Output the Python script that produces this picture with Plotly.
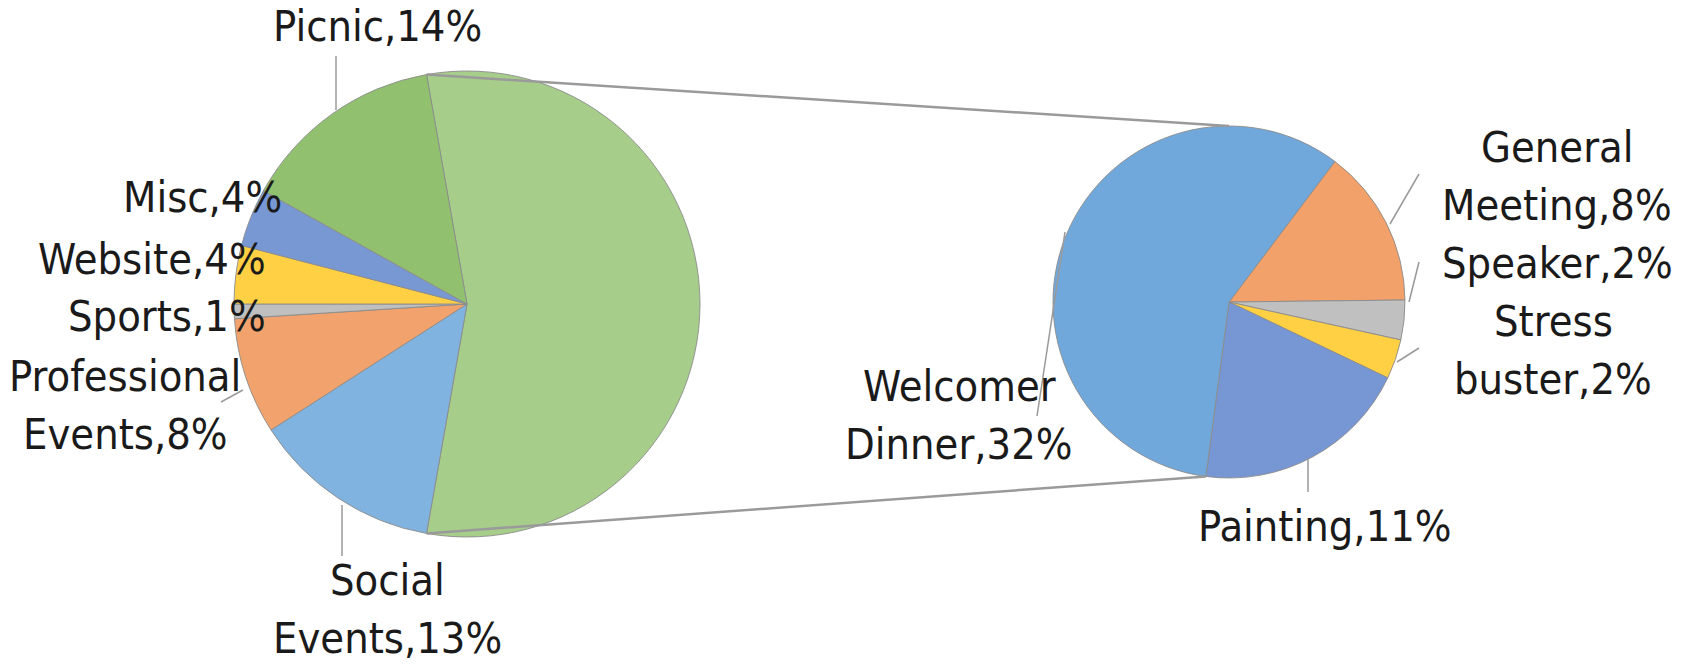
import math
import plotly.graph_objects as go

# ---------------- data ----------------
main_labels = ["Other", "Social Events", "Professional Events", "Sports", "Website", "Misc", "Picnic"]
main_values = [55, 13, 8, 1, 4, 4, 14]
main_colors = ["#a6cd8a", "#80b3e0", "#f2a36d", "#bfbfbf", "#ffd044", "#7898d3", "#91c06e"]

sub_labels = ["General Meeting", "Speaker", "Stress buster", "Painting", "Welcomer Dinner"]
sub_values = [8, 2, 2, 11, 32]
sub_colors = ["#f2a16b", "#c0c0c0", "#ffd044", "#7797d4", "#71a8dc"]

# ---------------- layout geometry (pixels) ----------------
W, H = 1690, 664
L_CX, L_CY, L_R = 467, 304, 233
R_CX, R_CY, R_R = 1229, 302, 176
L_ROT = -10
R_ROT = 37

def dom(cx, cy, r):
    return dict(x=[(cx - r) / W, (cx + r) / W], y=[1 - (cy + r) / H, 1 - (cy - r) / H])

def px(x):
    return x / W

def py(y):
    return 1 - y / H

line_style = dict(color="rgba(140,140,140,0.9)", width=1)

fig = go.Figure()
fig.add_trace(go.Pie(
    labels=main_labels, values=main_values, sort=False, direction="clockwise",
    rotation=L_ROT, domain=dom(L_CX, L_CY, L_R), textinfo="none", hoverinfo="label+value",
    marker=dict(colors=main_colors, line=line_style), showlegend=False,
))
fig.add_trace(go.Pie(
    labels=sub_labels, values=sub_values, sort=False, direction="clockwise",
    rotation=R_ROT, domain=dom(R_CX, R_CY, R_R), textinfo="none", hoverinfo="label+value",
    marker=dict(colors=sub_colors, line=line_style), showlegend=False,
))

# connector lines from the "Other" slice to the secondary pie
tot = sum(main_values)
a0 = math.radians(L_ROT)
a1 = math.radians(L_ROT + 360 * main_values[0] / tot)
sub_tot = sum(sub_values)
b1 = math.radians(R_ROT + 360 * sum(sub_values[:-1]) / sub_tot)

def pt(cx, cy, r, a):
    return cx + r * math.sin(a), cy - r * math.cos(a)

shapes = []
p_top = pt(L_CX, L_CY, L_R, a0)
q_top = pt(R_CX, R_CY, R_R, 0)
p_bot = pt(L_CX, L_CY, L_R, a1)
q_bot = pt(R_CX, R_CY, R_R, b1)
for p, q in [(p_top, q_top), (p_bot, q_bot)]:
    shapes.append(dict(type="line", xref="paper", yref="paper",
                       x0=px(p[0]), y0=py(p[1]), x1=px(q[0]), y1=py(q[1]),
                       line=dict(color="#9a9a9a", width=2.5)))

# leader lines
leaders = [
    ((336, 56), (336, 110)),     # Picnic
    ((342, 505), (342, 556)),    # Social
    ((221, 402), (243, 390)),    # Professional
    ((1419, 174), (1390, 224)),  # General Meeting
    ((1419, 262), (1409, 302)),  # Speaker
    ((1419, 348), (1397, 362)),  # Stress buster
    ((1065, 232), (1037, 416)),  # Welcomer
    ((1308, 459), (1308, 492)),  # Painting
]
for (x0, y0), (x1, y1) in leaders:
    shapes.append(dict(type="line", xref="paper", yref="paper",
                       x0=px(x0), y0=py(y0), x1=px(x1), y1=py(y1),
                       line=dict(color="#9a9a9a", width=1.5)))

# labels: (x, y, xanchor) per label, split at the space into lines
FONT = "DejaVu Sans Condensed, Liberation Sans Narrow, sans-serif"
FS = 43
LINE = 58
label_pos = {
    "Picnic": (377, 26, "center"),
    "Misc": (284, 197, "right"),
    "Website": (268, 259, "right"),
    "Sports": (268, 316, "right"),
    "Professional Events": (125, 405, "center"),
    "Social Events": (387, 609, "center"),
    "General Meeting": (1557, 176, "center"),
    "Speaker": (1557, 263, "center"),
    "Stress buster": (1553, 350, "center"),
    "Welcomer Dinner": (959, 415, "center"),
    "Painting": (1325, 526, "center"),
}

annotations = []
for labels, values in [(main_labels, main_values), (sub_labels, sub_values)]:
    for lab, val in zip(labels, values):
        if lab not in label_pos:
            continue
        x, y, xa = label_pos[lab]
        text = f"{lab},{val}%"
        lines = text.split(" ")
        n = len(lines)
        for i, ln in enumerate(lines):
            yy = y + (i - (n - 1) / 2) * LINE
            annotations.append(dict(
                x=px(x), y=py(yy), xref="paper", yref="paper", text=ln,
                showarrow=False, xanchor=xa, yanchor="middle",
                font=dict(family=FONT, size=FS, color="#1a1a1a"),
            ))

fig.update_layout(
    width=W, height=H, margin=dict(l=0, r=0, t=0, b=0),
    paper_bgcolor="white", plot_bgcolor="white",
    shapes=shapes, annotations=annotations,
)

fig.write_html("out.html")
